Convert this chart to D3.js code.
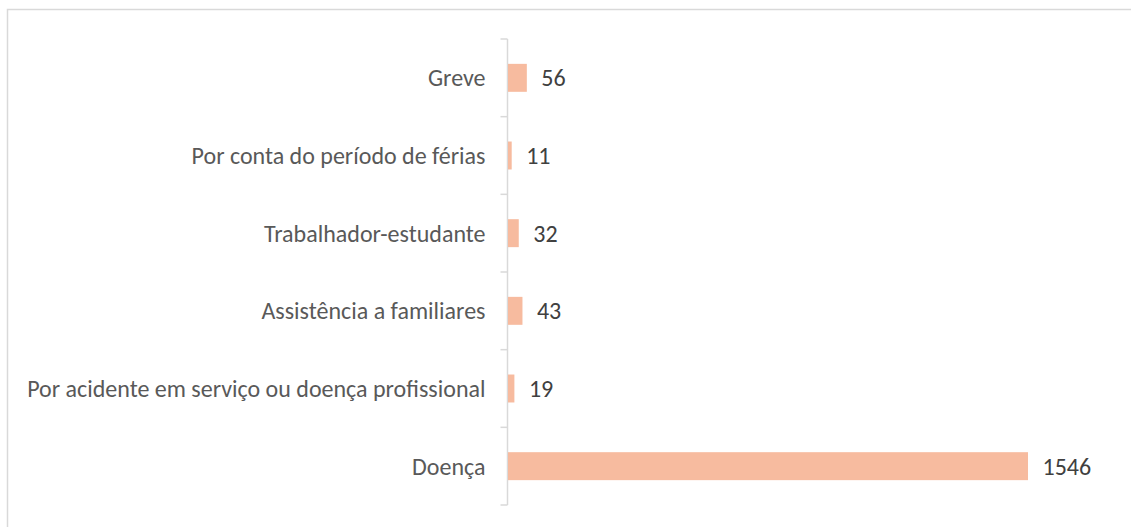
<!DOCTYPE html>
<html>
<head>
<meta charset="utf-8">
<script src="https://cdn.jsdelivr.net/npm/d3@7"></script>
<style>
  body { margin: 0; background: white; }
</style>
</head>
<body>
<div id="chart"></div>
<script>
// chart values
var categories = ['Greve', 'Por conta do período de férias', 'Trabalhador-estudante',
  'Assistência a familiares', 'Por acidente em serviço ou doença profissional', 'Doença'];
var values = [56, 11, 32, 43, 19, 1546];

var width = 1131;
var height = 527;
var bar_color = '#f7bb9f';
var text_color = '#595959';
var font = 'Carlito, Calibri, Lato, "Open Sans", sans-serif';

var svg = d3.select('#chart')
  .append('svg')
  .attr('width', width)
  .attr('height', height);

// outer chart frame (cut off at right and bottom)
svg.append('rect')
  .attr('x', 7.5)
  .attr('y', 9.5)
  .attr('width', width + 10)
  .attr('height', height + 10)
  .style('fill', 'white')
  .style('stroke', '#d9d9d9')
  .style('stroke-width', 1.5);

var plot = { left: 507.5, top: 39, bottom: 505 };

var y = d3.scaleBand()
  .domain(categories)
  .range([plot.top, plot.bottom])
  .paddingInner(0.64)
  .paddingOuter(0.32);

var x = d3.scaleLinear()
  .domain([0, 1546])
  .range([plot.left, 1027.5]);

// axis with ticks between bands
var y_axis = d3.axisLeft(y).tickSize(0).tickFormat('');
var axis_g = svg.append('g')
  .attr('transform', 'translate(' + plot.left + ',0)')
  .call(y_axis);
axis_g.select('.domain').remove();

axis_g.append('line')
  .attr('x1', 0).attr('x2', 0)
  .attr('y1', plot.top).attr('y2', plot.bottom)
  .style('stroke', '#d9d9d9')
  .style('stroke-width', 1.5);

var step = (plot.bottom - plot.top) / categories.length;
axis_g.selectAll('.tick-mark')
  .data(d3.range(categories.length + 1))
  .enter()
  .append('line')
  .attr('x1', -7).attr('x2', 0)
  .attr('y1', function(i){ return plot.top + i * step; })
  .attr('y2', function(i){ return plot.top + i * step; })
  .style('stroke', '#d9d9d9')
  .style('stroke-width', 1.5);

// category labels
svg.selectAll('.cat-label')
  .data(categories)
  .enter()
  .append('text')
  .attr('x', plot.left - 22)
  .attr('y', function(d){ return y(d) + y.bandwidth() / 2; })
  .attr('dy', '0.35em')
  .style('text-anchor', 'end')
  .style('font-family', font)
  .style('font-size', '24px')
  .style('fill', text_color)
  .text(function(d){ return d; });

// bars
svg.selectAll('.bar')
  .data(values)
  .enter()
  .append('rect')
  .attr('x', x(0) + 0.5)
  .attr('y', function(d, i){ return y(categories[i]); })
  .attr('width', function(d){ return x(d) - x(0); })
  .attr('height', y.bandwidth())
  .style('fill', bar_color);

// value labels
svg.selectAll('.val-label')
  .data(values)
  .enter()
  .append('text')
  .attr('x', function(d){ return x(d) + 15; })
  .attr('y', function(d, i){ return y(categories[i]) + y.bandwidth() / 2; })
  .attr('dy', '0.35em')
  .style('font-family', font)
  .style('font-size', '24px')
  .style('fill', '#404040')
  .text(function(d){ return d; });
</script>
</body>
</html>
